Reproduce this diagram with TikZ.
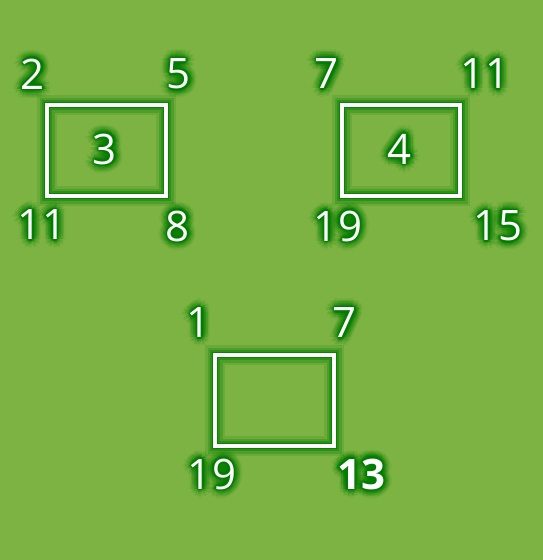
\documentclass[tikz,border=0pt]{standalone}
\usepackage{fontspec}
\setmainfont{Open Sans}
\usetikzlibrary{calc}
\definecolor{bg}{HTML}{7CB342}
\definecolor{glow}{HTML}{007C00}
\tikzset{
  num/.style={text=white, inner sep=0pt, font=\fontsize{42}{48}\selectfont},
  glowtxt/.style={text=glow, inner sep=0pt, font=\fontsize{42}{48}\selectfont},
  box/.style={draw=white, line width=3.2pt, minimum height=91pt, inner sep=0pt},
}
\newcommand{\glowat}[3]{%
  \foreach \r/\o in {9/0.07,7/0.1,5/0.15,3.2/0.25,1.6/0.4}{%
    \foreach \a in {0,30,...,330}{%
      \node[glowtxt, opacity=\o] at ($(#1,#2)+(\a:\r)$) {#3};
    }%
  }%
}
\newcommand{\glowbox}[4]{%
  \draw[glow, line width=20pt, opacity=0.15] (#1,#2) rectangle (#3,#4);
  \draw[glow, line width=15pt, opacity=0.25] (#1,#2) rectangle (#3,#4);
  \draw[glow, line width=10pt, opacity=0.4] (#1,#2) rectangle (#3,#4);
  \draw[glow, line width=6.5pt, opacity=0.75] (#1,#2) rectangle (#3,#4);
}
\begin{document}
\begin{tikzpicture}[x=1pt,y=-1pt]
\fill[bg] (0,0) rectangle (543,560);
\useasboundingbox (0,0) rectangle (543,560);
% glows
\glowbox{47}{105}{166}{196}
\glowbox{342}{105}{460}{196}
\glowbox{215}{355}{334}{446}
\glowat{33}{74}{2}
\glowat{179}{74}{5}
\glowat{42}{225}{11}
\glowat{178}{226}{8}
\glowat{105}{149}{3}
\glowat{327}{74}{7}
\glowat{485}{74}{11}
\glowat{338}{226}{19}
\glowat{498}{226}{15}
\glowat{400}{149}{4}
\glowat{199}{323}{1}
\glowat{345}{323}{7}
\glowat{212}{474}{19}
\glowat{361}{474}{\bfseries 13}
% boxes
\node[box, minimum width=119pt] (b1) at (106.5,150.5) {};
\node[box, minimum width=118pt] (b2) at (401,150.5) {};
\node[box, minimum width=119pt] (b3) at (274.5,400.5) {};
% numbers
\node[num] (a2) at (33,74) {2};
\node[num] (a5) at (179,74) {5};
\node[num] (a11) at (42,225) {11};
\node[num] (a8) at (178,226) {8};
\node[num] (a3) at (105,149) {3};
\node[num] (c7) at (327,74) {7};
\node[num] (c11) at (485,74) {11};
\node[num] (c19) at (338,226) {19};
\node[num] (c15) at (498,226) {15};
\node[num] (c4) at (400,149) {4};
\node[num] (d1) at (199,323) {1};
\node[num] (d7) at (345,323) {7};
\node[num] (d19) at (212,474) {19};
\node[num] (d13) at (361,474) {\bfseries 13};
\end{tikzpicture}
\end{document}
